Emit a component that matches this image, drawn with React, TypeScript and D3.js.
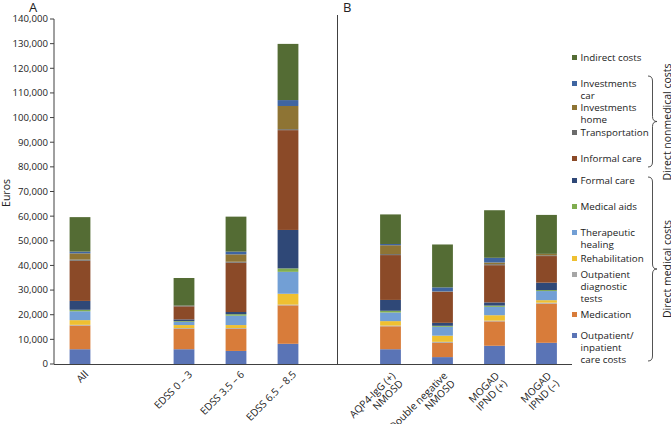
import React from 'react';
import * as d3 from 'd3';

const categoriesA = ['All', '', 'EDSS 0 – 3', 'EDSS 3.5 – 6', 'EDSS 6.5 – 8.5'];
const categoriesB = ['AQP4-IgG (+)|NMOSD', 'Double negative|NMOSD', 'MOGAD|IPND (+)', 'MOGAD|IPND (–)'];
const barsA = ['All', 'EDSS 0 – 3', 'EDSS 3.5 – 6', 'EDSS 6.5 – 8.5'];

const seriesNames = [
  'Outpatient/|inpatient|care costs', 'Medication', 'Outpatient|diagnostic|tests', 'Rehabilitation',
  'Therapeutic|healing', 'Medical aids', 'Formal care', 'Informal care', 'Transportation',
  'Investments|home', 'Investments|car', 'Indirect costs',
];
const seriesColors = ['#5a74b6', '#d87c3a', '#a6a6a6', '#efc031', '#729fd5', '#80ad50', '#2f4877', '#8b4a28', '#6b6b6b', '#8e7434', '#3f65a1', '#546c34'];

// values per series, order: All, EDSS 0-3, EDSS 3.5-6, EDSS 6.5-8.5, AQP4, Double neg, MOGAD+, MOGAD-
const outpatient = [6000, 6000, 5300, 8200, 6000, 2800, 7400, 8600];
const medication = [9600, 8300, 9000, 15600, 9300, 5800, 9900, 15900];
const diagnostic = [300, 300, 300, 300, 300, 400, 300, 400];
const rehabilitation = [1900, 1200, 1200, 4400, 1800, 2500, 2200, 1000];
const therapeutic = [3600, 1300, 3800, 8900, 3500, 3600, 3400, 3700];
const medicalAids = [600, 300, 600, 1400, 700, 400, 500, 400];
const formalCare = [3600, 700, 900, 15600, 4400, 1200, 1300, 3000];
const informalCare = [16300, 5300, 20000, 40500, 18200, 12600, 15100, 10800];
const transportation = [500, 300, 400, 400, 400, 200, 400, 300];
const investHome = [2500, 0, 3000, 9400, 3600, 0, 700, 600];
const investCar = [700, 0, 1100, 2400, 500, 1600, 1900, 0];
const indirect = [14000, 11200, 14200, 22800, 12000, 17400, 19300, 15800];

const seriesValues = [outpatient, medication, diagnostic, rehabilitation, therapeutic, medicalAids, formalCare, informalCare, transportation, investHome, investCar, indirect];
const yTicks = d3.range(0, 140001, 10000);

const FONT = '"Open Sans", sans-serif';
const AX = '#404040';

export default function App() {
  const W = 671, H = 424;
  const y = d3.scaleLinear().domain([0, 140000]).range([364, 19]);
  const xA = d3.scaleBand().domain(categoriesA).range([54, 314]).paddingInner(0.6).paddingOuter(0.3);
  const xB = d3.scaleBand().domain(categoriesB).range([364.5, 572.5]).paddingInner(0.6).paddingOuter(0.3);
  const allCats = [...barsA, ...categoriesB];
  const rows = allCats.map((c, i) => {
    const r: any = { cat: c };
    seriesNames.forEach((s, j) => { r[s] = seriesValues[j][i]; });
    return r;
  });
  const stack = d3.stack<any>().keys(seriesNames)(rows);
  const xPos = (c: string) => (barsA.includes(c) ? xA(c)! : xB(c)!);
  const bw = xA.bandwidth();

  const legendYs = [58, 84, 108, 133, 159, 181, 207, 233, 259, 275, 315, 336];
  const legendOrder = [11, 10, 9, 8, 7, 6, 5, 4, 3, 2, 1, 0];

  const brace = (x: number, y1: number, y2: number, w: number) => {
    const m = (y1 + y2) / 2, h = w / 2, r = 5;
    return `M${x},${y1} Q${x + h},${y1} ${x + h},${y1 + r} L${x + h},${m - r} Q${x + h},${m} ${x + w},${m} Q${x + h},${m} ${x + h},${m + r} L${x + h},${y2 - r} Q${x + h},${y2} ${x},${y2}`;
  };

  return (
    <svg width={W} height={H} style={{ position: 'absolute', left: 0, top: 0, background: '#fff' }} fontFamily={FONT}>
      {/* bars */}
      {stack.map((layer, j) => (
        <g key={j} fill={seriesColors[j]}>
          {layer.map((d, i) => (
            d[1] - d[0] > 0 ? (
              <rect key={i} x={xPos(allCats[i])} width={bw} y={y(d[1])} height={y(d[0]) - y(d[1])} />
            ) : null
          ))}
        </g>
      ))}
      {/* axes */}
      <line x1={54} x2={54} y1={19} y2={364} stroke={AX} strokeWidth={1} />
      <line x1={54} x2={572} y1={364.5} y2={364.5} stroke={AX} strokeWidth={1} />
      <line x1={337.5} x2={337.5} y1={15} y2={364} stroke={AX} strokeWidth={1} />
      {yTicks.map(t => (
        <g key={t}>
          <line x1={50} x2={54} y1={y(t)} y2={y(t)} stroke={AX} />
          <text x={48} y={y(t)} dy="0.35em" textAnchor="end" fontSize={9.6} fill="#222">{d3.format(',')(t)}</text>
        </g>
      ))}
      <text transform={`translate(10,${193}) rotate(-90)`} textAnchor="middle" fontSize={10.5} fill="#222">Euros</text>
      <text x={29} y={11.5} fontSize={13} fill="#222">A</text>
      <text x={343} y={11.5} fontSize={13} fill="#222">B</text>
      {/* x labels */}
      {barsA.map(c => (
        <text key={c} transform={`translate(${xA(c)! + bw / 2 + 9},${375}) rotate(-45)`} textAnchor="end" fontSize={10.2} fill="#222">{c}</text>
      ))}
      {categoriesB.map(c => (
        <text key={c} transform={`translate(${xB(c)! + bw / 2 + 5.5},${376.5}) rotate(-45)`} textAnchor="end" fontSize={10.2} fill="#222">
          {c.split('|').map((l, k) => (
            <tspan key={k} x={0} dy={k === 0 ? 0 : 10.8}>{l}</tspan>
          ))}
        </text>
      ))}
      {/* legend */}
      {legendOrder.map((si, k) => {
        const lines = seriesNames[si].split('|');
        const ly = legendYs[k];
        return (
          <g key={si}>
            <rect x={572} y={ly - 3} width={5} height={5} fill={seriesColors[si]} />
            <text x={580.5} y={ly} fontSize={9.8} fill="#222">
              {lines.map((l, q) => (
                <tspan key={q} x={580.5} dy={q === 0 ? '0.35em' : 11.7}>{l}</tspan>
              ))}
            </text>
          </g>
        );
      })}
      {/* braces */}
      <path d={brace(648, 76, 167, 9)} fill="none" stroke={AX} strokeWidth={0.9} />
      <path d={brace(648, 177, 361, 9)} fill="none" stroke={AX} strokeWidth={0.9} />
      <text transform={`translate(667,122) rotate(-90)`} textAnchor="middle" dy="0.35em" fontSize={10.5} fill="#222">Direct nonmedical costs</text>
      <text transform={`translate(667,269) rotate(-90)`} textAnchor="middle" dy="0.35em" fontSize={10.5} fill="#222">Direct medical costs</text>
    </svg>
  );
}
